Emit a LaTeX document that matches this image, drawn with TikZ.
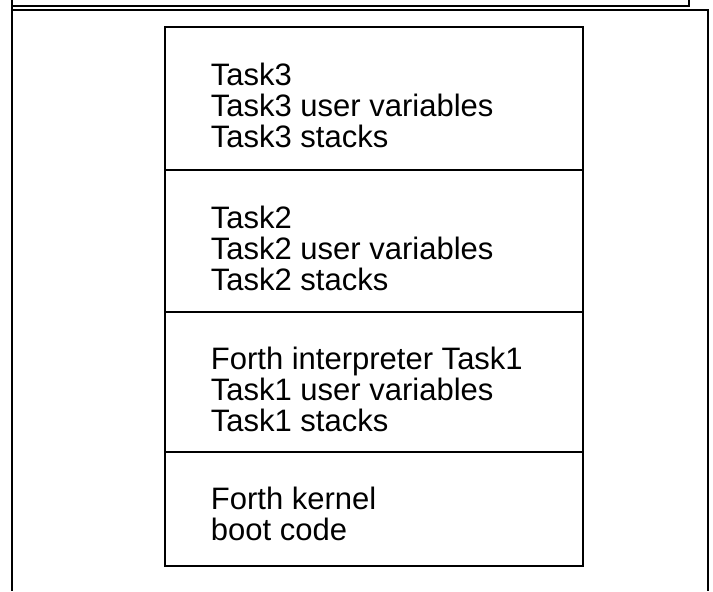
\documentclass[tikz,border=0pt]{standalone}
\usepackage{fontspec}
\setmainfont{Liberation Sans}
\usetikzlibrary{positioning}

\begin{document}
\begin{tikzpicture}[x=0.5pt, y=-0.5pt, line width=0.9pt,
    memtext/.style={anchor=north west, align=left, inner sep=0pt,
      font=\fontsize{15.5}{15.5}\selectfont}]
    \useasboundingbox (0,0) rectangle (713,591);

    % Frame and caption strip
    \draw (12,0) -- (12,591);
    \draw (12,10) -- (708,10) -- (708,591);
    \draw (12,6) -- (689,6) -- (689,0);

    % Memory map
    \draw (165,27) rectangle (583,566);
    \draw (165,170) -- (583,170);
    \draw (165,312) -- (583,312);
    \draw (165,452) -- (583,452);

    % Contents
    \node[memtext] (task3) at (210,62) {Task3\\Task3 user variables\\Task3 stacks};
    \node[memtext] (task2) at (210,205) {Task2\\Task2 user variables\\Task2 stacks};
    \node[memtext] (task1) at (210,346) {Forth interpreter Task1\\Task1 user variables\\Task1 stacks};
    \node[memtext] (kernel) at (210,486) {Forth kernel\\boot code};
\end{tikzpicture}
\end{document}
